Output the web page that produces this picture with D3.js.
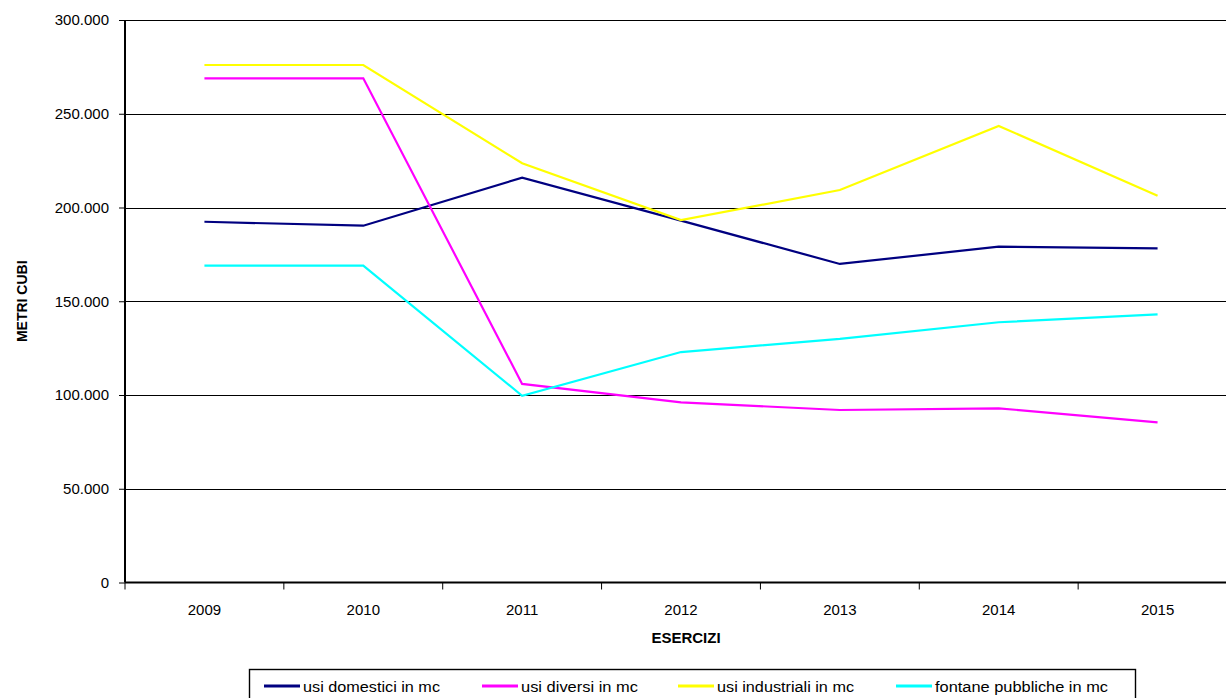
<!DOCTYPE html>
<html>
<head>
<meta charset="utf-8">
<script src="https://cdn.jsdelivr.net/npm/d3@7"></script>
<style>
  html, body { margin: 0; padding: 0; background: #fff; }
  svg { display: block; font-family: "Liberation Sans", Arial, sans-serif; }
</style>
</head>
<body>
<svg id="chart" width="1226" height="698"></svg>
<script>
// Water consumption per year (cubic metres)
const years = ["2009", "2010", "2011", "2012", "2013", "2014", "2015"];
const usiDomestici   = [192400, 190300, 215900, 193000, 169900, 179100, 178200];
const usiDiversi     = [268900, 268900, 105900, 96100, 92000, 92900, 85400];
const usiIndustriali = [276000, 276000, 223600, 193300, 209300, 243500, 206300];
const fontanePubbliche = [169000, 169000, 99600, 122900, 129900, 138800, 143000];
const yTicks = [0, 50000, 100000, 150000, 200000, 250000, 300000];

const seriesNames = ["usi domestici in mc", "usi diversi in mc", "usi industriali in mc", "fontane pubbliche in mc"];
const seriesColors = ["#000080", "#FF00FF", "#FFFF00", "#00FFFF"];
const seriesValues = [usiDomestici, usiDiversi, usiIndustriali, fontanePubbliche];

const svg = d3.select("#chart");
const plot = { left: 125, right: 1237, top: 20, bottom: 582.5 };

const x = d3.scaleBand().domain(years).range([plot.left, plot.right]);
const y = d3.scaleLinear().domain([0, 300000]).range([plot.bottom, plot.top]);

const it = d3.formatLocale({ decimal: ",", thousands: ".", grouping: [3], currency: ["", " €"] });
const fmt = it.format(",d");

// horizontal gridlines
svg.append("g")
  .selectAll("line")
  .data(yTicks.filter(d => d > 0))
  .join("line")
  .attr("x1", plot.left).attr("x2", plot.right)
  .attr("y1", d => Math.round(y(d)) + 0.5).attr("y2", d => Math.round(y(d)) + 0.5)
  .attr("stroke", "#000").attr("stroke-width", 1.2);

// y axis
const yAxis = svg.append("g")
  .attr("transform", `translate(${plot.left},0)`)
  .call(d3.axisLeft(y).tickValues(yTicks).tickFormat(fmt).tickSize(6).tickPadding(10));
yAxis.select(".domain").attr("stroke", "#000").attr("stroke-width", 2)
  .attr("d", `M0,${plot.top}V${plot.bottom}`);
yAxis.selectAll(".tick line").attr("stroke", "#000").attr("stroke-width", 1);
yAxis.selectAll(".tick text")
  .attr("font-size", 15).attr("fill", "#000")
  .attr("font-family", "Liberation Sans, Arial, sans-serif");

// x axis: ticks on category boundaries
const xAxis = svg.append("g")
  .attr("transform", `translate(0,${plot.bottom})`)
  .call(d3.axisBottom(x).tickSize(0).tickPadding(22));
xAxis.select(".domain").attr("stroke", "#000").attr("stroke-width", 2.2)
  .attr("d", `M${plot.left},0H${plot.right}`);
xAxis.selectAll(".tick text")
  .attr("font-size", 15).attr("fill", "#000")
  .attr("font-family", "Liberation Sans, Arial, sans-serif");
xAxis.append("g")
  .selectAll("line")
  .data(years)
  .join("line")
  .attr("x1", d => x(d)).attr("x2", d => x(d))
  .attr("y1", 0).attr("y2", 7)
  .attr("stroke", "#000").attr("stroke-width", 1);

// series lines
const line = d3.line()
  .x((d, i) => x(years[i]) + x.bandwidth() / 2)
  .y(d => y(d));

svg.append("g")
  .selectAll("path")
  .data(seriesValues)
  .join("path")
  .attr("d", d => line(d))
  .attr("fill", "none")
  .attr("stroke", (d, i) => seriesColors[i])
  .attr("stroke-width", 2.2)
  .attr("stroke-linejoin", "miter");

// axis titles
svg.append("text")
  .attr("x", 686).attr("y", 643)
  .attr("text-anchor", "middle")
  .attr("font-size", 15).attr("font-weight", "bold")
  .text("ESERCIZI");

svg.append("text")
  .attr("transform", `translate(27,${(plot.top + plot.bottom) / 2}) rotate(-90)`)
  .attr("text-anchor", "middle")
  .attr("font-size", 14).attr("font-weight", "bold")
  .text("METRI CUBI");

// legend
const legend = svg.append("g");
legend.append("rect")
  .attr("x", 249.5).attr("y", 669.5)
  .attr("width", 886).attr("height", 40)
  .attr("fill", "#fff").attr("stroke", "#000").attr("stroke-width", 1.4);

const legendX = [264, 482, 678, 896];
const legendTextW = [137, 117, 137, 173];
const item = legend.selectAll("g.item")
  .data(seriesNames)
  .join("g")
  .attr("class", "item")
  .attr("transform", (d, i) => `translate(${legendX[i]},686)`);
item.append("line")
  .attr("x1", 0).attr("x2", 36)
  .attr("stroke", (d, i) => seriesColors[i])
  .attr("stroke-width", 3);
item.append("text")
  .attr("x", 39).attr("y", 5.5)
  .attr("font-size", 14)
  .attr("textLength", (d, i) => legendTextW[i])
  .attr("lengthAdjust", "spacingAndGlyphs")
  .text(d => d);
</script>
</body>
</html>
